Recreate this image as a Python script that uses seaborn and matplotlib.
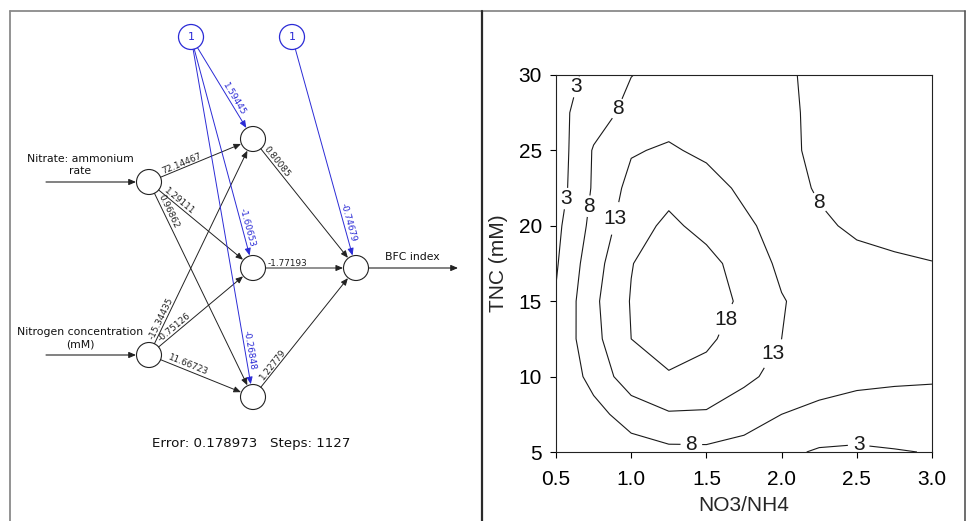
import numpy as np
import matplotlib
matplotlib.use("Agg")
import matplotlib.pyplot as plt
from matplotlib.patches import Circle
import seaborn as sns

# ---- response surface (rows = TNC, cols = NO3/NH4) ----
no3_nh4 = [0.5, 0.75, 1.0, 1.25, 1.5, 1.75, 2.0, 2.25, 2.5, 2.75, 3.0]
tnc = [5, 7.5, 10, 12.5, 15, 17.5, 20, 22.5, 25, 27.5, 30]
bfc = [
    [3.5, 4.5, 6.0, 6.8, 6.9, 6.0, 4.0, 2.5, 2.2, 2.7, 3.2],
    [4.0, 6.5, 10.0, 12.6, 12.5, 10.5, 8.0, 6.8, 6.3, 6.3, 6.4],
    [4.2, 9.5, 16.0, 17.5, 16.5, 14.0, 11.5, 10.0, 9.0, 8.6, 8.4],
    [4.0, 11.5, 18.0, 20.5, 18.8, 16.0, 13.0, 11.5, 10.5, 10.0, 9.8],
    [3.4, 12.0, 18.3, 22.0, 20.5, 17.0, 13.3, 11.0, 10.0, 9.5, 9.2],
    [2.5, 11.0, 17.8, 21.0, 19.5, 16.0, 12.0, 10.0, 9.0, 8.5, 8.1],
    [1.8, 9.5, 16.0, 19.0, 16.5, 14.0, 11.0, 8.6, 7.4, 6.9, 6.6],
    [0.5, 8.6, 14.5, 16.5, 15.0, 12.0, 9.5, 7.6, 6.6, 6.1, 5.9],
    [0.2, 8.4, 12.6, 13.6, 12.0, 11.0, 8.8, 7.3, 6.4, 6.0, 5.8],
    [1.5, 5.6, 9.6, 11.0, 11.5, 10.5, 8.8, 7.2, 6.5, 6.2, 6.0],
    [1.0, 4.2, 7.9, 9.5, 10.0, 9.5, 8.5, 7.3, 6.8, 6.6, 6.5],
]
contour_levels = [3, 8, 13, 18]
x_ticks = [0.5, 1.0, 1.5, 2.0, 2.5, 3.0]
y_ticks = [5, 10, 15, 20, 25, 30]

# ---- neural network weights (left panel) ----
input_names = ["Nitrate: ammonium\nrate", "Nitrogen concentration\n(mM)"]
output_name = "BFC index"
w_in_hidden = [[72.14467, 1.29111, 0.96862],
               [-15.34435, -0.75126, 11.66723]]
w_bias_hidden = [1.59445, -1.60653, -0.26848]
w_hidden_out = [0.80085, -1.77193, 1.22779]
w_bias_out = -0.74679
nn_error = 0.178973
nn_steps = 1127

sns.set_theme(style="ticks")
plt.rcParams['font.family'] = ['Liberation Sans', 'DejaVu Sans']

fig = plt.figure(figsize=(9.67, 5.21), dpi=100)

# background axes in pixel units for the diagram and the frames
bg = fig.add_axes([0, 0, 1, 1])
bg.set_xlim(0, 967)
bg.set_ylim(521, 0)
bg.axis('off')

# frames
bg.plot([10, 965], [11, 11], color='#8a8a8a', lw=1.3, clip_on=False)
bg.plot([10, 10], [11, 521], color='#8a8a8a', lw=1.3, clip_on=False)
bg.plot([481.5, 481.5], [11, 521], color='#2a2a2a', lw=1.6, clip_on=False)
bg.plot([965, 965], [11, 521], color='#555555', lw=1.2, clip_on=False)

# layout of the network
R = 12.5
BLUE = '#2b2bd6'
DARK = '#222222'
in_pos = [(149, 182), (149, 355)]
hid_pos = [(253, 139), (253, 268), (253, 397)]
out_pos = (356, 268)
bias_pos = [(191, 37), (292, 37)]
small = dict(family='DejaVu Sans', fontsize=6.4)
arrow_style = '-|>,head_length=0.42,head_width=0.18'


def edge(p0, p1, color, weight, frac):
    p0, p1 = np.array(p0, float), np.array(p1, float)
    d = p1 - p0
    u = d / np.linalg.norm(d)
    a = p0 + u * R
    b = p1 - u * (R + 0.5)
    bg.annotate('', xy=b, xytext=a,
                arrowprops=dict(arrowstyle=arrow_style, color=color, lw=0.7,
                                shrinkA=0, shrinkB=0, mutation_scale=10))
    m = p0 + d * frac
    ang = np.degrees(np.arctan2(-d[1], d[0]))
    bg.text(m[0], m[1] - 0.5, f"{weight:.5f}", rotation=ang,
            rotation_mode='anchor', ha='center', va='bottom', color=color,
            **small)


fr_in = [[0.33, 0.26, 0.15], [0.16, 0.27, 0.35]]
for i, p in enumerate(in_pos):
    for j, h in enumerate(hid_pos):
        edge(p, h, DARK, w_in_hidden[i][j], fr_in[i][j])
fr_bias = [0.63, 0.83, 0.875]
for j, h in enumerate(hid_pos):
    edge(bias_pos[0], h, BLUE, w_bias_hidden[j], fr_bias[j])
fr_out = [0.2, 0.33, 0.22]
for j, h in enumerate(hid_pos):
    edge(h, out_pos, DARK, w_hidden_out[j], fr_out[j])
edge(bias_pos[1], out_pos, BLUE, w_bias_out, 0.81)

for p in in_pos + hid_pos + [out_pos]:
    bg.add_patch(Circle(p, R, fill=False, ec=DARK, lw=0.8))
for p in bias_pos:
    bg.add_patch(Circle(p, R, fill=False, ec=BLUE, lw=0.9))
    bg.text(p[0], p[1], "1", ha='center', va='center', color=BLUE,
            family='DejaVu Sans', fontsize=8)

# input / output arrows
for p, name in zip(in_pos, input_names):
    bg.annotate('', xy=(p[0] - R - 0.5, p[1]), xytext=(46, p[1]),
                arrowprops=dict(arrowstyle=arrow_style, color=DARK, lw=0.8,
                                shrinkA=0, shrinkB=0, mutation_scale=10))
    bg.text(80, p[1] - 17, name, ha='center', va='center', linespacing=1.3,
            family='DejaVu Sans', fontsize=7.8, color='#111111')
bg.annotate('', xy=(458, out_pos[1]), xytext=(out_pos[0] + R, out_pos[1]),
            arrowprops=dict(arrowstyle=arrow_style, color=DARK, lw=0.8,
                            shrinkA=0, shrinkB=0, mutation_scale=10))
bg.text(412, out_pos[1] - 11, output_name, ha='center', va='center',
        family='DejaVu Sans', fontsize=7.8, color='#111111')

bg.text(251, 444, f"Error: {nn_error}   Steps: {nn_steps}", ha='center',
        va='center', family='DejaVu Sans', fontsize=9.6, color='#111111')

# ---- contour panel ----
ax = fig.add_axes([556 / 967, 69 / 521, 376 / 967, 377 / 521])
ax.set_facecolor('white')
cs = ax.contour(no3_nh4, tnc, bfc, levels=contour_levels, colors='k',
                linewidths=0.8)
label_spots = [(0.68, 29.1), (0.57, 21.8), (0.90, 27.8), (0.715, 21.3),
               (2.24, 21.5), (1.40, 5.6), (0.89, 20.5), (1.98, 11.3),
               (1.65, 13.7), (2.51, 5.27)]
labels = ax.clabel(cs, fmt='%d', fontsize=15, inline=True, inline_spacing=5,
                   manual=label_spots)
for t in labels:
    t.set_rotation(0)

ax.set_xlim(0.5, 3.0)
ax.set_ylim(5, 30)
ax.set_xticks(x_ticks)
ax.set_xticklabels([f"{v:.1f}" for v in x_ticks])
ax.set_yticks(y_ticks)
ax.tick_params(direction='out', length=4, width=0.8, labelsize=15,
               colors='black')
ax.tick_params(axis='x', pad=9)
ax.tick_params(axis='y', pad=6)
for s in ax.spines.values():
    s.set_color('#222222')
    s.set_linewidth(0.8)
ax.set_xlabel("NO3/NH4", fontsize=15, labelpad=5)
ax.set_ylabel("TNC (mM)", fontsize=15, labelpad=8)

fig.savefig("out.png", dpi=100, facecolor='white')
